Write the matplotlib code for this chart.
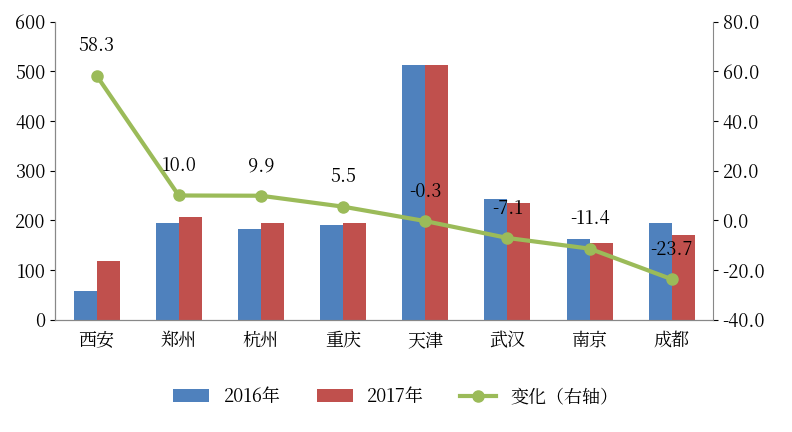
import matplotlib.pyplot as plt
from matplotlib import font_manager
import numpy as np

# pick whichever CJK font matplotlib actually registered
cjk = [f.name for f in font_manager.fontManager.ttflist if "CJK" in f.name]
plt.rcParams["font.family"] = "sans-serif"
plt.rcParams["font.sans-serif"] = (cjk[:1] or []) + ["DejaVu Sans"]
plt.rcParams["axes.unicode_minus"] = False

cities = ["西安", "郑州", "杭州", "重庆", "天津", "武汉", "南京", "成都"]
v2016 = [57, 195, 183, 190, 513, 242, 163, 195]
v2017 = [118, 206, 195, 195, 513, 235, 155, 170]
change = [58.3, 10.0, 9.9, 5.5, -0.3, -7.1, -11.4, -23.7]

fig = plt.figure(figsize=(7.92, 4.32), dpi=100)
ax = fig.add_axes([0.07, 0.26, 0.83, 0.69])
x = np.arange(len(cities))
w = 0.28
ax.bar(x - w / 2, v2016, w, color="#4F81BD", label="2016年")
ax.bar(x + w / 2, v2017, w, color="#C0504D", label="2017年")
ax.set_ylim(0, 600)
ax.set_yticks(range(0, 601, 100))
ax.set_xlim(-0.5, len(cities) - 0.5)
ax.set_xticks(x)
ax.set_xticklabels(cities, fontsize=13)
ax.tick_params(axis="y", labelsize=13)
ax.tick_params(axis="x", length=0, pad=8)

ax2 = ax.twinx()
ax2.plot(x, change, color="#9BBB59", lw=3, marker="o", ms=8, label="变化（右轴）")
ax2.set_ylim(-40, 80)
ax2.set_yticks(range(-40, 81, 20))
ax2.set_yticklabels([f"{t:.1f}" for t in range(-40, 81, 20)], fontsize=13)
for xi, c in zip(x, change):
    ax2.annotate(f"{c:.1f}", (xi, c), xytext=(0, 14), textcoords="offset points",
                 ha="center", va="bottom", fontsize=13)

for a in (ax, ax2):
    a.spines["top"].set_visible(False)
    for s in ("left", "right", "bottom"):
        a.spines[s].set_color("#888888")
ax.spines["right"].set_visible(False)

h1, l1 = ax.get_legend_handles_labels()
h2, l2 = ax2.get_legend_handles_labels()
fig.legend(h1 + h2, l1 + l2, loc="lower center", bbox_to_anchor=(0.5, 0.02),
           ncol=3, frameon=False, fontsize=13)

fig.savefig("out.png", dpi=100)
